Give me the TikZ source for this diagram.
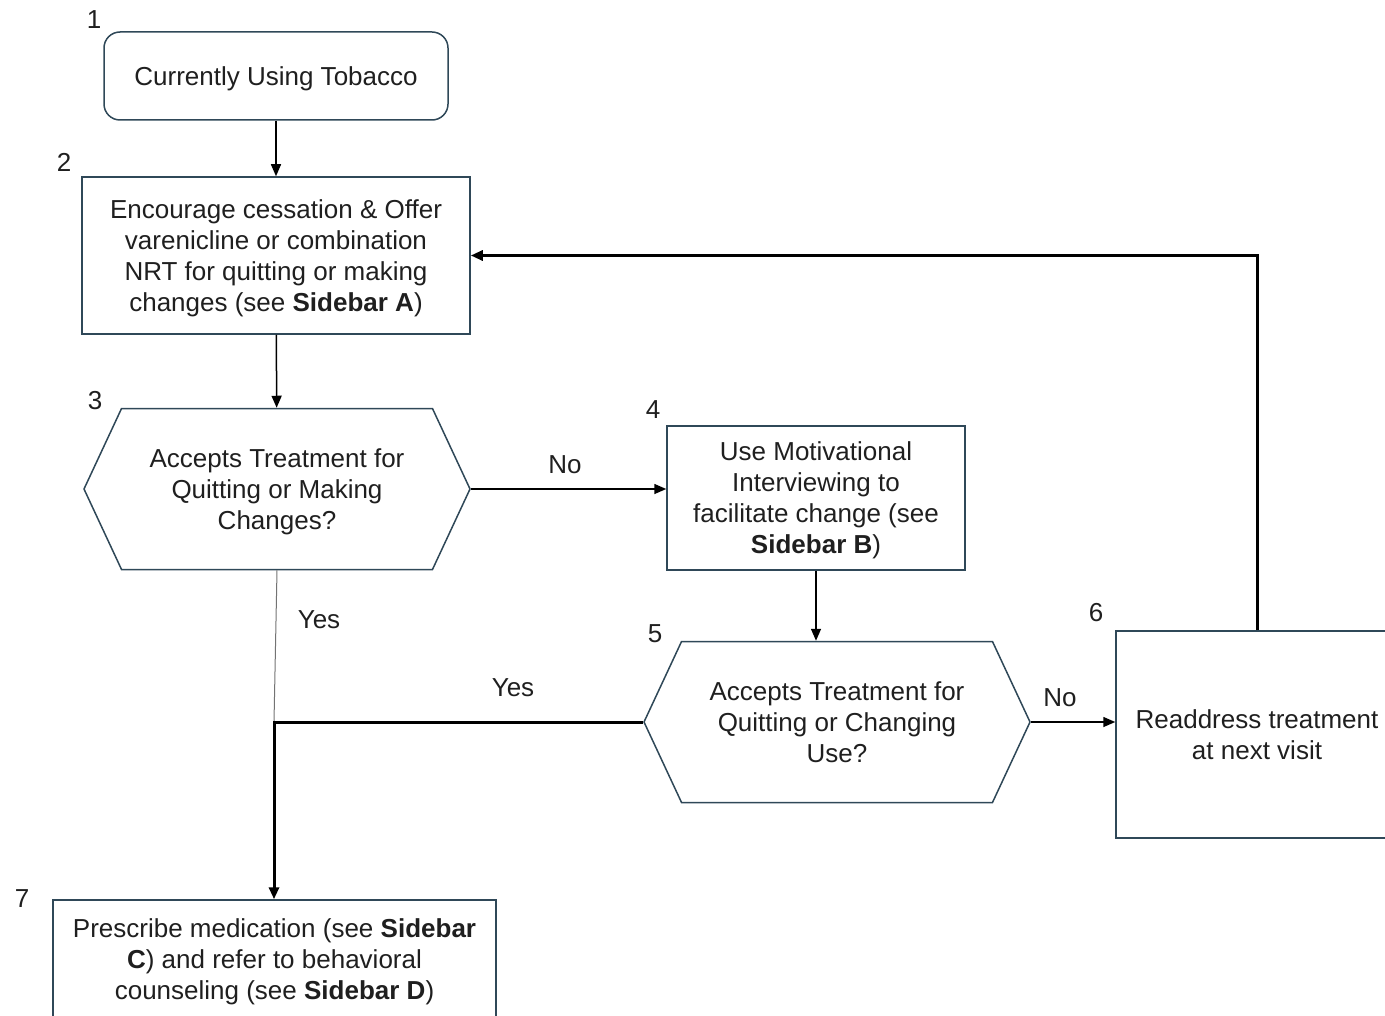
\documentclass[tikz,border=0pt]{standalone}
\usepackage{fontspec}
\setmainfont{Liberation Sans}
\usetikzlibrary{shapes.symbols,arrows.meta}

\definecolor{boxline}{RGB}{47,72,88}

\begin{document}
\begin{tikzpicture}[x=0.5pt,y=-0.5pt,>={Triangle[length=6pt,width=5pt]},
  font=\fontsize{13}{15.5}\selectfont,text=black!88,
  box node/.style={rectangle,draw=boxline,line width=0.75pt,align=center,inner sep=0pt,
    text depth=0pt},
  start node/.style={box node,rounded corners=8pt},
  ask node/.style={signal,signal to=west and east,signal pointer angle=130,
    draw=boxline,line width=0.75pt,align=center,inner sep=0pt,text depth=0pt,
    minimum width=193pt,minimum height=80.5pt},
  num node/.style={inner sep=0pt},
  flow/.style={->,line width=0.75pt},
  back flow/.style={->,line width=1.5pt}]

  \clip (0,0) rectangle (1385,1016);

  % boxes and questions
  \node[start node,minimum width=172pt,minimum height=44pt] (start) at (276,76) {Currently Using Tobacco};
  \node[box node,minimum width=194pt,minimum height=78.5pt] (offer) at (276,255.5)
    {Encourage cessation \& Offer\\varenicline or combination\\NRT for quitting or making\\changes (see \textbf{Sidebar A})};
  \node[ask node] (accept1) at (277,489) {Accepts Treatment for\\Quitting or Making\\Changes?};
  \node[box node,minimum width=149pt,minimum height=72pt] (motiv) at (816,498)
    {Use Motivational\\Interviewing to\\facilitate change (see\\\textbf{Sidebar B})};
  \node[ask node] (accept2) at (837,722) {Accepts Treatment for\\Quitting or Changing\\Use?};
  \node[box node,minimum width=141pt,minimum height=103.5pt] (readdress) at (1257,734.5)
    {Readdress treatment\\at next visit};
  \node[box node,minimum width=221.5pt,minimum height=59pt] (prescribe) at (274.5,959)
    {Prescribe medication (see \textbf{Sidebar}\\\textbf{C}) and refer to behavioral\\counseling (see \textbf{Sidebar D})};

  % step numbers
  \node[num node] (n1) at (94,20) {1};
  \node[num node] (n2) at (64,162) {2};
  \node[num node] (n3) at (95,401) {3};
  \node[num node] (n4) at (653,410) {4};
  \node[num node] (n5) at (655,634) {5};
  \node[num node] (n6) at (1096,613) {6};
  \node[num node] (n7) at (22,899) {7};

  % answers
  \node[num node] (no1) at (565,465) {No};
  \node[num node] (no2) at (1060,698) {No};
  \node[num node] (yes1) at (319,620) {Yes};
  \node[num node] (yes2) at (513,688) {Yes};

  \coordinate (join) at (274,722);

  \path[flow]
    (start) edge (offer)
    (offer) edge (accept1)
    (accept1.east) edge (accept1.east -| motiv.west)
    (motiv.south) edge (motiv.south |- accept2.north)
    (accept2.east) edge (accept2.east -| readdress.west);

  \draw[line width=0.5pt,black!55] (accept1.south) -- (join);
  \draw[back flow] (accept2.west) -- (join) -- (prescribe.north -| join);
  \draw[back flow] (readdress.north) |- (offer.east);
\end{tikzpicture}
\end{document}
